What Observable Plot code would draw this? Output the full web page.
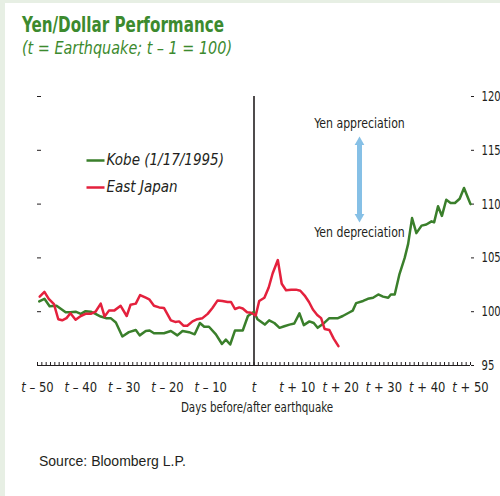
<!DOCTYPE html>
<html>
<head>
<meta charset="utf-8">
<script src="https://cdn.jsdelivr.net/npm/d3@7"></script>
<script src="https://cdn.jsdelivr.net/npm/@observablehq/plot@0.6"></script>
<style>
  html, body { margin: 0; padding: 0; background: #ffffff; }
  #page { position: relative; width: 500px; height: 496px; overflow: hidden; background: #ffffff; }
  .strip-left { position: absolute; left: 0; top: 0; width: 5px; height: 496px; background: #e7efe4; }
  .strip-top { position: absolute; left: 0; top: 0; width: 500px; height: 3px; background: #e7efe4; }
  .narrow { font-family: "DejaVu Sans Condensed", "DejaVu Sans", sans-serif; font-stretch: condensed; }
  #title { position: absolute; left: 22px; top: 15px; font-size: 21px; font-weight: bold; line-height: 1; color: #3c8a2e; white-space: nowrap; transform-origin: 0 50%; }
  #subtitle { position: absolute; left: 22px; top: 40px; font-size: 17px; font-style: italic; line-height: 1; color: #3c8a2e; white-space: nowrap; transform-origin: 0 50%; }
  #chart { position: absolute; left: 0; top: 62px; }
  #source { position: absolute; left: 39px; top: 454px; font-family: "Liberation Sans", "Open Sans", sans-serif; font-size: 14px; line-height: 1; color: #231f20; white-space: nowrap; }
</style>
</head>
<body>
<div id="page">
  <div class="strip-left"></div>
  <div class="strip-top"></div>
  <div id="title" class="narrow"></div>
  <div id="subtitle" class="narrow"></div>
  <div id="chart"></div>
  <div id="source"></div>
</div>
<script>
// ---- Data ----
const kobeDay = [-49.6, -48.4, -47.2, -45.6, -43.5, -42.4, -41.2, -40, -38.9, -37.7, -36.6, -35.4, -34.2, -33.1, -31.9, -30.4, -28.9, -27.3, -26.4, -25, -24.1, -23.1, -20.8, -19.2, -17.7, -16.5, -15, -13.7, -12.5, -11.5, -10.4, -8.8, -7.4, -6.5, -5.5, -4.4, -2.6, -1.4, 0,
  0.8, 2.5, 3.5, 4.7, 5.9, 7, 8.2, 9.3, 10.5, 11.5, 12.8, 13.8, 14.7, 15.9, 17.4, 19.4, 20.5, 22.1, 22.8, 23.6, 25.2, 26.3, 27.5, 28.7, 29.8, 31, 31.6, 32.5, 33.6, 34.8, 35.6, 36.5, 37.5, 38.7, 39.8, 41, 41.6, 42.5, 43.4, 44.4, 45.4, 46.4, 47.5, 48.5, 49.5, 50];
const kobeLevel = [100.95, 101.2, 100.5, 100.55, 99.95, 99.95, 100.0, 99.8, 100.05, 100.0, 99.8, 99.55, 99.4, 99.4, 99.0, 97.7, 98.1, 98.3, 97.8, 98.2, 98.25, 98.0, 98.0, 98.2, 97.8, 98.2, 98.1, 97.9, 98.95, 98.6, 98.6, 97.9, 97.0, 97.4, 96.95, 98.25, 98.25, 99.6, 100.0,
  99.3, 98.8, 99.2, 98.95, 98.5, 98.65, 98.8, 98.9, 99.85, 98.75, 99.1, 98.95, 98.5, 98.85, 99.4, 99.4, 99.6, 99.95, 100.1, 100.8, 101.0, 101.2, 101.3, 101.6, 101.4, 101.3, 101.6, 101.6, 103.5, 105.0, 106.3, 108.7, 107.3, 108.0, 108.1, 108.4, 108.3, 109.8, 108.9, 110.4, 110.1, 110.1, 110.5, 111.5, 110.5, 110.0];

const eastDay = [-49.5, -48.4, -47.4, -46.2, -45.2, -44.3, -43.3, -42.4, -41.2, -40, -38.9, -37.7, -36.6, -35.4, -34.5, -33.5, -32.3, -30.8, -29.4, -28.5, -27.3, -26.3, -25, -24.2, -23.1, -21.9, -20.8, -19.2, -18.2, -17.3, -16.3, -15.4, -14.2, -13.1, -11.9, -10.7, -9.6, -8.4, -7.3, -6.1, -5.3, -4.4, -3.4, -2.6, -1.6, -0.7, 0.4,
  1.2, 2.4, 3.4, 4.3, 5.5, 6.4, 7.4, 8.6, 9.7, 10.7, 11.7, 12.7, 13.6, 14.6, 15.5, 16.3, 17.4, 18.4, 19.5];
const eastLevel = [101.4, 101.85, 101.2, 100.7, 99.3, 99.2, 99.4, 99.85, 99.25, 99.6, 99.8, 99.8, 100.0, 100.75, 99.55, 100.1, 100.1, 100.55, 99.6, 100.65, 100.75, 101.55, 101.3, 101.15, 100.55, 100.4, 100.35, 99.2, 99.05, 99.1, 98.7, 98.7, 99.1, 99.3, 99.4, 99.8, 100.35, 101.05, 101.0, 100.9, 100.9, 100.25, 100.4, 100.3, 99.95, 99.9, 99.65,
  101.0, 101.3, 102.25, 103.55, 104.8, 102.6, 102.0, 102.05, 102.05, 101.95, 101.5, 100.9, 100.2, 99.7, 99.4, 98.4, 98.3, 97.5, 96.8];

const seriesNames = ["Kobe (1/17/1995)", "East Japan"];
const xTickDays = [-50, -40, -30, -20, -10, 0, 10, 20, 30, 40, 50];
const yTickLevels = [95, 100, 105, 110, 115, 120];
const titleText = "Yen/Dollar Performance";
const subtitleText = "(t = Earthquake; t \u2013 1 = 100)";
const xLabelText = "Days before/after earthquake";
const noteUp = "Yen appreciation";
const noteDown = "Yen depreciation";
const sourceText = "Source: Bloomberg L.P.";

// ---- Build tables ----
const kobe = kobeDay.map((d, i) => ({day: d, level: kobeLevel[i]}));
const east = eastDay.map((d, i) => ({day: d, level: eastLevel[i]}));

// ---- Styles ----
const ink = "#231f20";
const green = "#3a7f2b";
const red = "#e4213d";
const blue = "#86c0e6";
const W = 500, H = 360, ML = 37, MR = 30, MT = 34, MB = 57;
const FW = W - ML - MR, FH = H - MT - MB;
const fontNarrow = "'DejaVu Sans Condensed', 'DejaVu Sans', sans-serif";

const fmtX = d => d === 0 ? "t" : (d < 0 ? "t \u2013 " + Math.abs(d) : "t + " + d);

const chart = Plot.plot({
  width: W,
  height: H,
  marginLeft: ML,
  marginRight: MR,
  marginTop: MT,
  marginBottom: MB,
  x: {domain: [-50, 50]},
  y: {domain: [95, 120]},
  style: {fontFamily: fontNarrow, fontSize: "14px", color: ink, background: "transparent", overflow: "visible"},
  marks: [
    // minor daily ticks pointing up from the baseline
    Plot.ruleX(d3.range(-50, 51), {x: d => d, insetTop: FH - 3, stroke: ink, strokeWidth: 1}),
    // left dashes
    Plot.ruleY(yTickLevels.filter(v => v > 95), {y: d => d, insetRight: FW - 4, stroke: ink, strokeWidth: 1}),
    Plot.axisY({anchor: "right", ticks: yTickLevels, tickSize: 3, tickPadding: 8, tickFormat: d => String(d), label: null, stroke: ink, fill: ink}),
    Plot.axisX({ticks: xTickDays, tickSize: 0, tickPadding: 17, tickFormat: fmtX, label: null, fill: ink}),
    Plot.ruleY([95], {stroke: ink, strokeWidth: 1}),
    Plot.ruleX([0], {stroke: ink, strokeWidth: 1.6}),
    Plot.line(kobe, {x: "day", y: "level", stroke: green, strokeWidth: 2.5}),
    Plot.line(east, {x: "day", y: "level", stroke: red, strokeWidth: 2.5}),
    // x axis title
    Plot.text([xLabelText], {text: d => d, frameAnchor: "bottom", dx: 3, dy: 42.5, lineAnchor: "middle", fill: ink, fontSize: 14}),
    // legend
    Plot.frame({fill: green, stroke: "none", insetLeft: 49, insetRight: FW - 67, insetTop: 62.75, insetBottom: FH - 65.25}),
    Plot.frame({fill: red, stroke: "none", insetLeft: 49, insetRight: FW - 67, insetTop: 89.75, insetBottom: FH - 92.25}),
    Plot.text([seriesNames[0]], {text: d => d, frameAnchor: "top-left", dx: 69, dy: 64, textAnchor: "start", lineAnchor: "middle", fontStyle: "italic", fontSize: 15, fill: ink}),
    Plot.text([seriesNames[1]], {text: d => d, frameAnchor: "top-left", dx: 69, dy: 91, textAnchor: "start", lineAnchor: "middle", fontStyle: "italic", fontSize: 15, fill: ink}),
    // annotation
    Plot.frame({fill: blue, stroke: "none", insetLeft: 319.5, insetRight: FW - 324.5, insetTop: 45, insetBottom: FH - 121}),
    Plot.dot([0], {frameAnchor: "top-left", dx: 322, dy: 45.6, symbol: "triangle", r: 3.6, fill: blue, stroke: "none"}),
    Plot.dot([0], {frameAnchor: "top-left", dx: 322, dy: 120.4, symbol: "triangle", r: 3.6, rotate: 180, fill: blue, stroke: "none"}),
    Plot.text([noteUp], {text: d => d, frameAnchor: "top-left", dx: 322, dy: 27, textAnchor: "middle", lineAnchor: "middle", fontSize: 14.5, fill: ink}),
    Plot.text([noteDown], {text: d => d, frameAnchor: "top-left", dx: 322, dy: 135.5, textAnchor: "middle", lineAnchor: "middle", fontSize: 14.5, fill: ink})
  ]
});

// ---- Post-styling: condensed look and italic "t" ----
const SVGNS = "http://www.w3.org/2000/svg";
function squeeze(el, k) {
  const tr = el.getAttribute("transform") || "";
  el.setAttribute("transform", (tr + " scale(" + k + ",1)").trim());
}
chart.querySelectorAll("text").forEach(t => {
  const s = t.textContent;
  if (s === xLabelText) squeeze(t, 0.82);
  if (s === noteUp || s === noteDown) squeeze(t, 0.84);
});
chart.querySelectorAll('g[aria-label="y-axis tick label"] text').forEach(t => squeeze(t, 0.8));
chart.querySelectorAll('g[aria-label="x-axis tick label"] text').forEach(t => {
  const s = t.textContent;
  if (!s.startsWith("t")) return;
  t.textContent = "";
  const a = document.createElementNS(SVGNS, "tspan");
  a.setAttribute("font-style", "italic");
  a.textContent = "t";
  t.appendChild(a);
  if (s.length > 1) {
    const b = document.createElementNS(SVGNS, "tspan");
    b.textContent = s.slice(1);
    t.appendChild(b);
  }
  squeeze(t, 0.92);
});

document.getElementById("chart").appendChild(chart);

const titleEl = document.getElementById("title");
const subEl = document.getElementById("subtitle");
titleEl.textContent = titleText;
subEl.textContent = subtitleText;
document.getElementById("source").textContent = sourceText;
// fit the headline widths to the condensed proportions of the original
const fitTo = (el, w) => { const r = el.getBoundingClientRect().width; if (r > w) el.style.transform = "scaleX(" + (w / r) + ")"; };
fitTo(titleEl, 202);
fitTo(subEl, 210);
</script>
</body>
</html>
